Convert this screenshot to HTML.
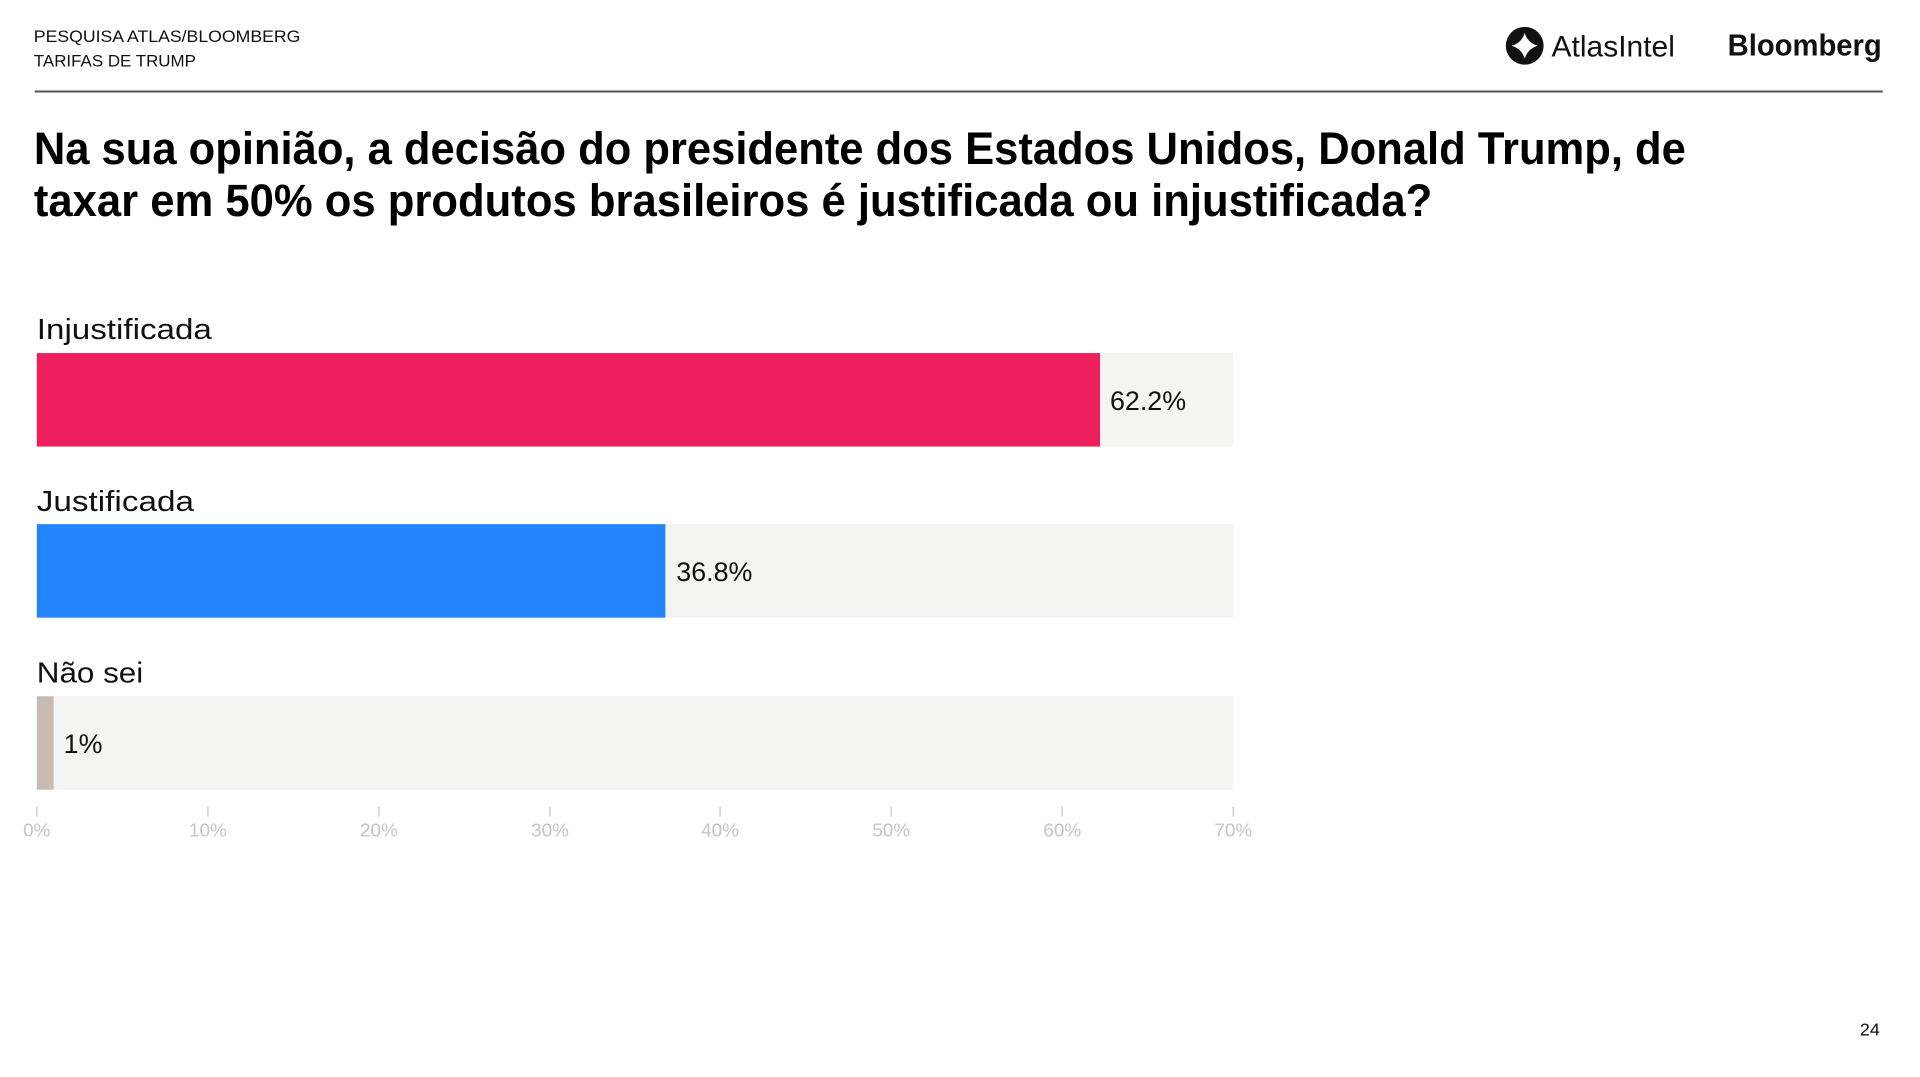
<!DOCTYPE html>
<html><head><meta charset="utf-8"><style>
html,body{margin:0;padding:0;background:#fff;}
svg{display:block;font-family:"Liberation Sans",sans-serif;}
</style></head><body>
<svg width="1920" height="1077" viewBox="0 0 1920 1077" xmlns="http://www.w3.org/2000/svg">
<rect width="1920" height="1077" fill="#fff"/>
<g transform="scale(0.9946)">
<text x="34" y="42" font-size="17" fill="#111" textLength="268" lengthAdjust="spacingAndGlyphs">PESQUISA ATLAS/BLOOMBERG</text>
<text x="34" y="67" font-size="17" fill="#111" textLength="163" lengthAdjust="spacingAndGlyphs">TARIFAS DE TRUMP</text>
<circle cx="1533" cy="46" r="19" fill="#111"/>
<path d="M1533 33 Q1536 43 1546 46 Q1536 49 1533 59 Q1530 49 1520 46 Q1530 43 1533 33Z" fill="#fff"/>
<text x="1560" y="57" font-size="30" fill="#111" textLength="124" lengthAdjust="spacingAndGlyphs">AtlasIntel</text>
<text x="1737" y="56" font-size="31" font-weight="bold" fill="#111" textLength="155" lengthAdjust="spacingAndGlyphs">Bloomberg</text>
<rect x="35" y="91" width="1858" height="2" fill="#555"/>
<text x="34" y="165" font-size="46" font-weight="bold" fill="#000" textLength="1661" lengthAdjust="spacingAndGlyphs">Na sua opinião, a decisão do presidente dos Estados Unidos, Donald Trump, de</text>
<text x="34" y="217" font-size="46" font-weight="bold" fill="#000" textLength="1406" lengthAdjust="spacingAndGlyphs">taxar em 50% os produtos brasileiros é justificada ou injustificada?</text>

<text x="37" y="341" font-size="29" fill="#111" textLength="176" lengthAdjust="spacingAndGlyphs">Injustificada</text>
<rect x="37" y="355" width="1203" height="94" fill="#F4F4F2"/>
<rect x="37" y="355" width="1069" height="94" fill="#EC1E5C"/>
<text x="1116" y="412" font-size="27" fill="#111">62.2%</text>

<text x="37" y="514" font-size="29" fill="#111" textLength="158" lengthAdjust="spacingAndGlyphs">Justificada</text>
<rect x="37" y="527" width="1203" height="94" fill="#F4F4F2"/>
<rect x="37" y="527" width="632" height="94" fill="#2384FE"/>
<text x="680" y="584" font-size="27" fill="#111">36.8%</text>

<text x="37" y="686" font-size="29" fill="#111" textLength="107" lengthAdjust="spacingAndGlyphs">Não sei</text>
<rect x="37" y="700" width="1203" height="94" fill="#F4F4F2"/>
<rect x="37" y="700" width="17" height="94" fill="#C8BBB2"/>
<text x="64" y="757" font-size="27" fill="#111">1%</text>

<g stroke="#d0d0d0" stroke-width="1.5">
<line x1="37" y1="811" x2="37" y2="821"/><line x1="209" y1="811" x2="209" y2="821"/><line x1="381" y1="811" x2="381" y2="821"/><line x1="553" y1="811" x2="553" y2="821"/><line x1="724" y1="811" x2="724" y2="821"/><line x1="896" y1="811" x2="896" y2="821"/><line x1="1068" y1="811" x2="1068" y2="821"/><line x1="1240" y1="811" x2="1240" y2="821"/>
</g>
<g font-size="19" fill="#c4c4c4" text-anchor="middle">
<text x="37" y="841">0%</text><text x="209" y="841">10%</text><text x="381" y="841">20%</text><text x="553" y="841">30%</text><text x="724" y="841">40%</text><text x="896" y="841">50%</text><text x="1068" y="841">60%</text><text x="1240" y="841">70%</text>
</g>
<text x="1880" y="1041" font-size="18" fill="#111" text-anchor="middle">24</text>
</g>
</svg>
</body></html>
